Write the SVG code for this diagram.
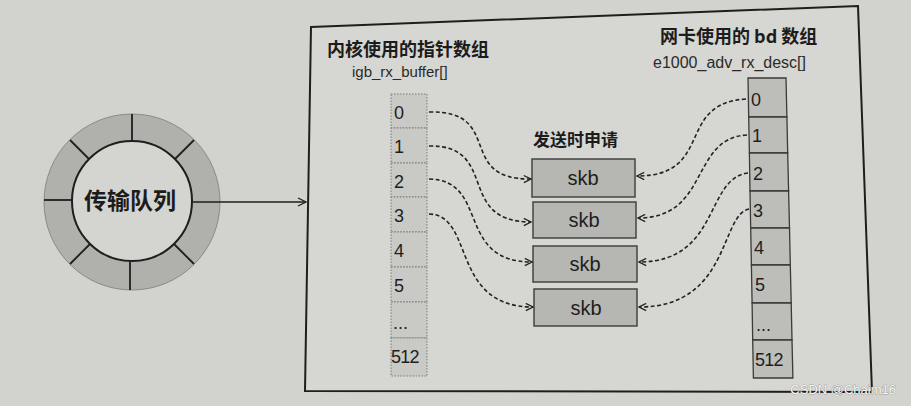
<svg xmlns="http://www.w3.org/2000/svg" width="911" height="406" viewBox="0 0 911 406">
<defs>
<style>
.zh{font-family:"Noto Sans CJK SC","Liberation Sans",sans-serif;font-weight:bold;fill:#1c1c1c}
.lat{font-family:"Liberation Sans",Arial,sans-serif;fill:#2a2a2a}
.lcell{fill:#c9c9c5;stroke:#7a7a78;stroke-width:1;stroke-dasharray:1.5 1.5}
.rcell{fill:#bdbdb9;stroke:#3a3a3a;stroke-width:1.3}
.skb{fill:#b6b6b2;stroke:#444;stroke-width:1.5}
.dash{fill:none;stroke:#222;stroke-width:1.6;stroke-dasharray:4 2.5;marker-end:url(#open)}
.num{font-family:"Liberation Sans",Arial,sans-serif;font-size:18px;fill:#1e1e1e}
.sk{font-family:"Liberation Sans",Arial,sans-serif;font-size:20px;fill:#1e1e1e;text-anchor:middle}
</style>
<marker id="open" viewBox="0 0 10 10" refX="9" refY="5" markerWidth="9" markerHeight="9" markerUnits="userSpaceOnUse" orient="auto">
<path d="M1,1 L9,5 L1,9" fill="none" stroke="#222" stroke-width="1.5"/>
</marker>
<marker id="solidArrow" viewBox="0 0 10 10" refX="9" refY="5" markerWidth="10" markerHeight="10" markerUnits="userSpaceOnUse" orient="auto">
<path d="M1,1 L9,5 L1,9" fill="none" stroke="#222" stroke-width="1.3"/>
</marker>
</defs>
<rect width="911" height="406" fill="#d2d2ce"/>

<g id="frame">
<polygon points="311,27 858,6 872,392 305,391" fill="#d6d6d2" stroke="#1e1e1e" stroke-width="2"/>
</g>

<g id="queue">
<circle cx="132" cy="202" r="88" fill="#b0b0ac" stroke="#8a8a86" stroke-width="1"/>
<g stroke="#1e1e1e" stroke-width="1.8">
<line x1="132" y1="114" x2="132" y2="142"/>
<line x1="194" y1="140" x2="174" y2="160"/>
<line x1="194" y1="264" x2="174" y2="244"/>
<line x1="130" y1="290" x2="130" y2="262"/>
<line x1="70" y1="264" x2="90" y2="244"/>
<line x1="44" y1="200" x2="72" y2="200"/>
<line x1="70" y1="140" x2="90" y2="160"/>
</g>
<circle cx="132" cy="201" r="60" fill="#d4d4d0" stroke="#1e1e1e" stroke-width="2"/>
<text class="zh" x="130" y="209" font-size="23" text-anchor="middle">传输队列</text>
</g>

<g id="kernel-array">
<text class="zh" x="327" y="56" font-size="18">内核使用的指针数组</text>
<text class="lat" x="352" y="77" font-size="15" fill="#444">igb_rx_buffer[]</text>
<rect class="lcell" x="391" y="94" width="36" height="34"/>
<rect class="lcell" x="391" y="128" width="36" height="35"/>
<rect class="lcell" x="391" y="163" width="36" height="34"/>
<rect class="lcell" x="391" y="197" width="36" height="35"/>
<rect class="lcell" x="391" y="232" width="36" height="35"/>
<rect class="lcell" x="391" y="267" width="36" height="35"/>
<rect class="lcell" x="391" y="302" width="36" height="36"/>
<rect class="lcell" x="391" y="338" width="36" height="38"/>
<text class="num" x="394" y="119">0</text>
<text class="num" x="394" y="153">1</text>
<text class="num" x="394" y="188">2</text>
<text class="num" x="394" y="222">3</text>
<text class="num" x="394" y="257">4</text>
<text class="num" x="394" y="292">5</text>
<text class="num" x="393" y="329">...</text>
<text class="num" x="391" y="363" font-size="14" letter-spacing="-0.8">512</text>
</g>

<g id="nic-array">
<text class="zh" x="660" y="43" font-size="18">网卡使用的 bd 数组</text>
<text class="lat" x="653" y="68" font-size="16" fill="#444">e1000_adv_rx_desc[]</text>
<polygon class="rcell" points="748,78 786,78 786.9,117 748.7,117"/>
<polygon class="rcell" points="748.7,117 786.9,117 787.7,153 749.4,153"/>
<polygon class="rcell" points="749.4,153 787.7,153 788.6,191 750,191"/>
<polygon class="rcell" points="750,191 788.6,191 789.5,228 750.7,228"/>
<polygon class="rcell" points="750.7,228 789.5,228 790.3,265 751.4,265"/>
<polygon class="rcell" points="751.4,265 790.3,265 791.2,303 752.1,303"/>
<polygon class="rcell" points="752.1,303 791.2,303 792,340 752.7,340"/>
<polygon class="rcell" points="752.7,340 792,340 792.9,378 753.4,378"/>
<text class="num" x="751" y="106">0</text>
<text class="num" x="752" y="142">1</text>
<text class="num" x="753" y="180">2</text>
<text class="num" x="753" y="217">3</text>
<text class="num" x="754" y="254">4</text>
<text class="num" x="755" y="291">5</text>
<text class="num" x="756" y="331">...</text>
<text class="num" x="755" y="366" font-size="14" letter-spacing="-0.8">512</text>
</g>

<g id="skb-group">
<text class="zh" x="533" y="146" font-size="17">发送时申请</text>
</g>
<g id="skb1"><rect class="skb" x="532" y="159" width="103" height="38"/><text class="sk" x="583" y="185">skb</text></g>
<g id="skb2"><rect class="skb" x="533" y="202" width="103" height="36"/><text class="sk" x="584" y="227">skb</text></g>
<g id="skb3"><rect class="skb" x="533" y="246" width="104" height="36"/><text class="sk" x="585" y="271">skb</text></g>
<g id="skb4"><rect class="skb" x="534" y="289" width="103" height="37"/><text class="sk" x="586" y="315">skb</text></g>

<g id="connectors">
<line x1="193" y1="202" x2="306" y2="202" stroke="#1e1e1e" stroke-width="1.6" marker-end="url(#solidArrow)"/>
<path class="dash" d="M429,112 C505,110 455,180 531,179"/>
<path class="dash" d="M429,146 C500,145 455,222 531,222"/>
<path class="dash" d="M429,179 C490,180 455,262 532,262"/>
<path class="dash" d="M429,214 C475,215 450,307 533,307"/>
<path class="dash" d="M746,99 C675,103 715,176 637,176"/>
<path class="dash" d="M747,135 C690,138 710,218 638,218"/>
<path class="dash" d="M748,173 C705,178 720,262 639,262"/>
<path class="dash" d="M749,209 C720,215 730,307 639,307"/>
</g>

<text x="896" y="394" font-family="Liberation Sans,Arial,sans-serif" font-size="13" fill="#f6f6f6" text-anchor="end" stroke="#6a6a6a" stroke-width="0.5" paint-order="stroke">CSDN @Chaim16</text>
</svg>
